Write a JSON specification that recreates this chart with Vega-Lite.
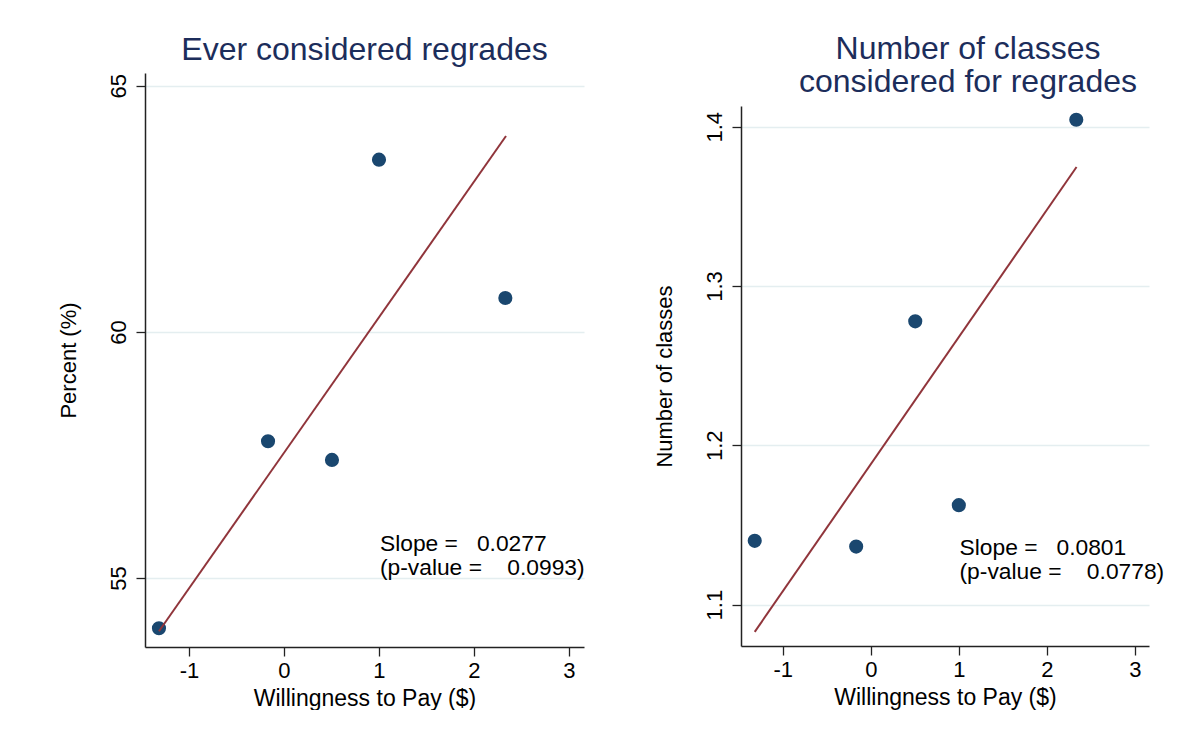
{
  "$schema": "https://vega.github.io/schema/vega-lite/v6.json",
  "background": "white",
  "padding": {"left": 57, "top": 33, "right": 0, "bottom": 0},
  "spacing": 68,
  "config": {
    "font": "Liberation Sans",
    "view": {"stroke": null},
    "title": {"font": "Liberation Sans", "fontSize": 32, "fontWeight": "normal", "color": "#1c2d5b", "anchor": "middle", "offset": 6, "lineHeight": 33},
    "axis": {
      "labelFont": "Liberation Sans", "labelFontSize": 22, "labelColor": "black",
      "titleFont": "Liberation Sans", "titleFontSize": 22, "titleFontWeight": "normal", "titleColor": "black",
      "domainColor": "#222222", "domainWidth": 1.5, "tickColor": "#222222", "tickSize": 9, "tickWidth": 1.3,
      "gridColor": "#e4eef0", "gridWidth": 1.5,
      "labelExpr": "'' + datum.value"
    },
    "axisX": {"grid": false, "labelPadding": 4, "titlePadding": 6, "titleFontSize": 23},
    "axisY": {"grid": true, "labelAngle": -90, "labelPadding": 6, "titlePadding": 27}
  },
  "datasets": {
    "left_points": [
      {"wtp": -1.316, "value": 53.98},
      {"wtp": -0.168, "value": 57.78},
      {"wtp": 0.505, "value": 57.40},
      {"wtp": 1.0, "value": 63.50},
      {"wtp": 2.33, "value": 60.69}
    ],
    "left_fit": [
      {"wtp": -1.316, "value": 53.92},
      {"wtp": 2.337, "value": 63.98}
    ],
    "left_notes": [
      {"wtp": 1.01, "value": 55.69, "label": "Slope =\u00a0\u00a0\u00a00.0277"},
      {"wtp": 1.01, "value": 55.20, "label": "(p-value =\u00a0\u00a0\u00a0\u00a00.0993)"}
    ],
    "right_points": [
      {"wtp": -1.318, "value": 1.140},
      {"wtp": -0.166, "value": 1.1364},
      {"wtp": 0.505, "value": 1.2778},
      {"wtp": 1.0, "value": 1.1624},
      {"wtp": 2.334, "value": 1.4044}
    ],
    "right_fit": [
      {"wtp": -1.318, "value": 1.0829},
      {"wtp": 2.337, "value": 1.3747}
    ],
    "right_notes": [
      {"wtp": 1.008, "value": 1.1356, "label": "Slope =\u00a0\u00a0\u00a00.0801"},
      {"wtp": 1.008, "value": 1.1205, "label": "(p-value =\u00a0\u00a0\u00a0\u00a00.0778)"}
    ]
  },
  "hconcat": [
    {
      "width": 439,
      "height": 574,
      "title": "Ever considered regrades",
      "layer": [
        {
          "data": {"name": "left_points"},
          "mark": {"type": "point", "shape": "circle", "filled": true, "size": 200, "color": "#1a476f", "opacity": 1},
          "encoding": {
            "x": {"field": "wtp", "type": "quantitative", "scale": {"domain": [-1.463, 3.158], "nice": false, "zero": false}, "axis": {"values": [-1, 0, 1, 2, 3], "title": "Willingness to Pay ($)"}},
            "y": {"field": "value", "type": "quantitative", "scale": {"domain": [53.6, 65.26], "nice": false, "zero": false}, "axis": {"values": [55, 60, 65], "title": "Percent (%)"}}
          }
        },
        {
          "data": {"name": "left_fit"},
          "mark": {"type": "line", "color": "#90353b", "strokeWidth": 2},
          "encoding": {
            "x": {"field": "wtp", "type": "quantitative"},
            "y": {"field": "value", "type": "quantitative"}
          }
        },
        {
          "data": {"name": "left_notes"},
          "mark": {"type": "text", "align": "left", "baseline": "middle", "fontSize": 22.8, "font": "Liberation Sans", "color": "black"},
          "encoding": {
            "x": {"field": "wtp", "type": "quantitative"},
            "y": {"field": "value", "type": "quantitative"},
            "text": {"field": "label"}
          }
        }
      ]
    },
    {
      "width": 408,
      "height": 573,
      "title": {"text": ["Number of classes", "considered for regrades"], "dx": 23, "offset": -26},
      "layer": [
        {
          "data": {"name": "right_points"},
          "mark": {"type": "point", "shape": "circle", "filled": true, "size": 200, "color": "#1a476f", "opacity": 1},
          "encoding": {
            "x": {"field": "wtp", "type": "quantitative", "scale": {"domain": [-1.474, 3.16], "nice": false, "zero": false}, "axis": {"values": [-1, 0, 1, 2, 3], "title": "Willingness to Pay ($)"}},
            "y": {"field": "value", "type": "quantitative", "scale": {"domain": [1.074, 1.413], "nice": false, "zero": false, "range": [573, 33]}, "axis": {"values": [1.1, 1.2, 1.3, 1.4], "labelExpr": "format(datum.value, '.1f')", "title": "Number of classes"}}
          }
        },
        {
          "data": {"name": "right_fit"},
          "mark": {"type": "line", "color": "#90353b", "strokeWidth": 2},
          "encoding": {
            "x": {"field": "wtp", "type": "quantitative"},
            "y": {"field": "value", "type": "quantitative"}
          }
        },
        {
          "data": {"name": "right_notes"},
          "mark": {"type": "text", "align": "left", "baseline": "middle", "fontSize": 22.8, "font": "Liberation Sans", "color": "black"},
          "encoding": {
            "x": {"field": "wtp", "type": "quantitative"},
            "y": {"field": "value", "type": "quantitative"},
            "text": {"field": "label"}
          }
        }
      ]
    }
  ]
}
